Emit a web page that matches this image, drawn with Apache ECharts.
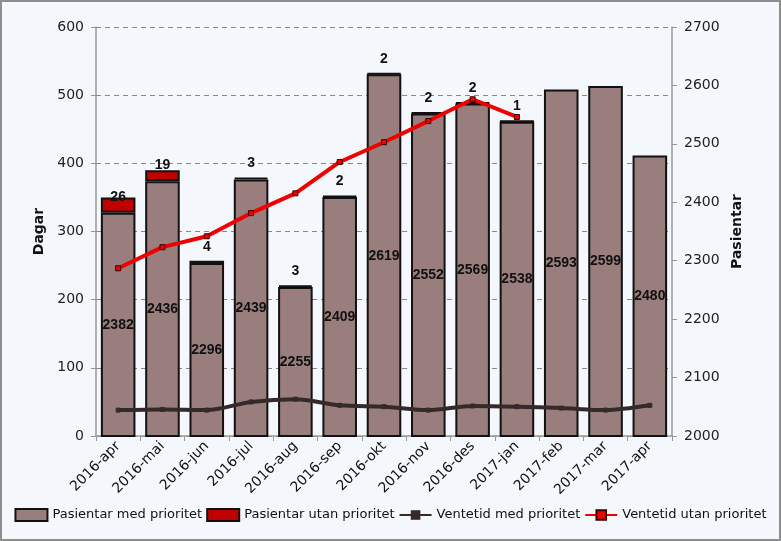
<!DOCTYPE html>
<html><head><meta charset="utf-8">
<script src="https://cdn.jsdelivr.net/npm/echarts@6/dist/echarts.min.js"></script>
<style>
html,body{margin:0;padding:0;background:#fff;}
#c{width:781px;height:541px;box-sizing:border-box;border:2px solid #8e8e8e;background:#f4f7fb;}
</style></head><body>
<div id="c"></div>
<script>
var categories = ['2016-apr','2016-mai','2016-jun','2016-jul','2016-aug','2016-sep','2016-okt','2016-nov','2016-des','2017-jan','2017-feb','2017-mar','2017-apr'];
var pasientarMed = [2382,2436,2296,2439,2255,2409,2619,2552,2569,2538,2593,2599,2480];
var pasientarUtan = [26,19,4,3,3,2,2,2,2,1,null,null,null];
var ventetidMed = [38,39,38,50,54,45,43,38,44,43,41,38,45];
var ventetidUtan = [246,277,293,327,356,402,431,462,494,468,null,null,null];

var FONT = 'DejaVu Sans';
var LFONT = 'Liberation Sans';
// label distance above the red segment (first two labels sit lower, as in the original)
var utanLabelDist = [-7, -2];
var utanData = pasientarUtan.map(function(v, i){
  var d = {value: v};
  if (i < utanLabelDist.length) d.label = {distance: utanLabelDist[i]};
  return d;
});
var chart = echarts.init(document.getElementById('c'), null, {renderer:'canvas'});
chart.setOption({
  backgroundColor: 'transparent',
  animation: false,
  textStyle: {fontFamily: FONT},
  grid: {left: 94, right: 107, top: 25, bottom: 103, containLabel: false},
  legend: {
    bottom: 12, left: 'center', itemGap: 4, itemWidth: 32, itemHeight: 12,
    textStyle: {fontFamily: FONT, fontSize: 13, color: '#111'},
    data: [
      {name: 'Pasientar med prioritet', icon: 'rect'},
      {name: 'Pasientar utan prioritet', icon: 'rect'},
      {name: 'Ventetid med prioritet'},
      {name: 'Ventetid utan prioritet'}
    ]
  },
  xAxis: {
    type: 'category', data: categories,
    axisLine: {lineStyle: {color: '#999', width: 1.5}},
    axisTick: {show: true, alignWithLabel: false, lineStyle: {color: '#999'}},
    axisLabel: {rotate: 45, fontSize: 14, color: '#111', fontFamily: FONT, margin: 8, interval: 0}
  },
  yAxis: [
    {
      type: 'value', min: 0, max: 600, interval: 100, position: 'left',
      name: 'Dagar', nameLocation: 'middle', nameGap: 47,
      nameTextStyle: {fontWeight: 'bold', fontSize: 14, color: '#111', fontFamily: FONT},
      axisLine: {show: true, lineStyle: {color: '#999', width: 1.5}},
      axisTick: {show: true, lineStyle: {color: '#999'}},
      axisLabel: {fontSize: 14, color: '#222', fontFamily: FONT, margin: 12},
      splitLine: {show: true, lineStyle: {color: '#888', type: [5, 4], width: 1}}
    },
    {
      type: 'value', min: 2000, max: 2700, interval: 100, position: 'right',
      name: 'Pasientar', nameLocation: 'middle', nameGap: 56,
      nameTextStyle: {fontWeight: 'bold', fontSize: 14, color: '#111', fontFamily: FONT},
      axisLine: {show: true, lineStyle: {color: '#999', width: 1.5}},
      axisTick: {show: true, lineStyle: {color: '#999'}},
      axisLabel: {fontSize: 14, color: '#222', fontFamily: FONT, margin: 12,
        formatter: function(v){ return String(v); }},
      splitLine: {show: false}
    }
  ],
  series: [
    {
      name: 'Pasientar med prioritet', type: 'bar', yAxisIndex: 1, stack: 'p',
      data: pasientarMed, barWidth: '78%',
      itemStyle: {color: '#9a7e7e', borderColor: '#111', borderWidth: 2},
      label: {show: true, position: 'inside', fontWeight: 'bold', fontSize: 14, color: '#111', fontFamily: LFONT}
    },
    {
      name: 'Pasientar utan prioritet', type: 'bar', yAxisIndex: 1, stack: 'p',
      data: utanData, barWidth: '78%',
      itemStyle: {color: '#c00000', borderColor: '#111', borderWidth: 2},
      label: {show: true, position: 'top', distance: 7, fontWeight: 'bold', fontSize: 14, color: '#111', fontFamily: LFONT,
        formatter: function(p){ return p.value == null ? '' : String(p.value); }}
    },
    {
      name: 'Ventetid med prioritet', type: 'line', yAxisIndex: 0, data: ventetidMed,
      smooth: 0.3, symbol: 'rect', symbolSize: 4, showSymbol: true,
      lineStyle: {color: '#352a2a', width: 4},
      itemStyle: {color: '#352a2a', borderColor: '#352a2a'}
    },
    {
      name: 'Ventetid utan prioritet', type: 'line', yAxisIndex: 0, data: ventetidUtan,
      symbol: 'rect', symbolSize: 5, connectNulls: false,
      lineStyle: {color: '#ee0000', width: 4},
      itemStyle: {color: '#ee0000', borderColor: '#3a0000', borderWidth: 1}
    }
  ]
});
</script>
</body></html>
